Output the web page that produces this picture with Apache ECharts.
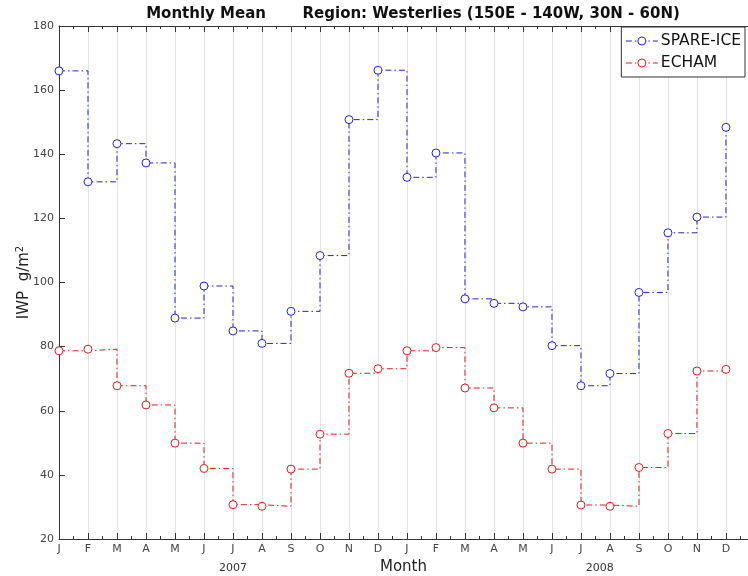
<!DOCTYPE html>
<html>
<head>
<meta charset="utf-8">
<script src="https://cdn.jsdelivr.net/npm/echarts@6/dist/echarts.min.js"></script>
<style>
  html, body { margin: 0; padding: 0; background: #fff; }
  #chart { width: 748px; height: 576px; }
</style>
</head>
<body>
<div id="chart"></div>
<script>
// month index 0 = Jan 2007 ... 23 = Dec 2008
var monthLetters = ['J','F','M','A','M','J','J','A','S','O','N','D',
                    'J','F','M','A','M','J','J','A','S','O','N','D'];
var spareIce = [166, 131.4, 143.3, 137.3, 88.9, 98.9, 84.9, 81, 91, 108.4, 150.8, 166.2,
                132.8, 140.4, 94.9, 93.5, 92.4, 80.3, 67.8, 71.6, 96.9, 115.5, 120.4, 148.4];
var echam = [78.7, 79.2, 67.8, 61.8, 49.9, 42, 30.7, 30.2, 41.8, 52.7, 71.7, 73.1,
             78.7, 79.7, 67.1, 60.9, 49.9, 41.8, 30.6, 30.2, 42.3, 52.9, 72.4, 72.9];
var yearLabels = ['2007', '2008'];
var yearPos = [6, 18.65];

var font = 'DejaVu Sans';
var chart = echarts.init(document.getElementById('chart'));

function pairs(vals) {
  return vals.map(function (v, i) { return [i, v]; });
}

var option = {
  animation: false,
  backgroundColor: '#fff',
  textStyle: { fontFamily: font },
  title: {
    text: 'Monthly Mean       Region: Westerlies (150E - 140W, 30N - 60N)',
    left: 408,
    textAlign: 'center',
    top: 2,
    textStyle: { fontFamily: font, fontSize: 15, fontWeight: 'bold', color: '#111' }
  },
  legend: {
    right: 3,
    top: 27,
    orient: 'vertical',
    backgroundColor: '#fff',
    borderColor: '#333',
    borderWidth: 1,
    borderRadius: 0,
    padding: [6, 4, 6, 4],
    itemGap: 6,
    itemWidth: 32,
    itemHeight: 10,
    itemStyle: { borderWidth: 1 },
    lineStyle: { width: 1 },
    textStyle: { fontFamily: font, fontSize: 15.5, color: '#111', padding: [0, 0, 0, -2] },
    data: ['SPARE-ICE', 'ECHAM']
  },
  grid: { left: 59, right: 0, top: 26, bottom: 37, containLabel: false, outerBoundsMode: 'none' },
  xAxis: [{
    type: 'value',
    min: 0,
    max: 23.76,
    interval: 1,
    name: 'Month',
    nameLocation: 'middle',
    nameGap: 18,
    nameTextStyle: { fontFamily: font, fontSize: 15, color: '#222' },
    axisLine: { lineStyle: { color: '#333', width: 1 } },
    axisTick: { inside: true, length: 6, lineStyle: { color: '#333' } },
    minorTick: { show: true, splitNumber: 2, length: 3, lineStyle: { color: '#333' } },
    splitLine: { show: true, lineStyle: { color: '#e4e4e4', width: 1 } },
    axisLabel: {
      showMaxLabel: false,
      fontFamily: font, fontSize: 11, color: '#444', margin: 5,
      formatter: function (v) { return monthLetters[Math.round(v)] || ''; }
    }
  }, {
    type: 'value',
    position: 'top',
    min: 0,
    max: 23.76,
    interval: 1,
    axisLine: { show: true, lineStyle: { color: '#333', width: 1 } },
    axisTick: { inside: true, length: 6, lineStyle: { color: '#333' } },
    minorTick: { show: true, splitNumber: 2, length: 3, lineStyle: { color: '#333' } },
    splitLine: { show: false },
    axisLabel: { show: false }
  }],
  yAxis: {
    type: 'value',
    min: 20,
    max: 180,
    interval: 20,
    name: '{a|IWP  g/m}{s|2}',
    nameLocation: 'middle',
    nameMoveOverlap: false,
    nameGap: 26,
    nameTextStyle: {
      rich: {
        a: { fontFamily: font, fontSize: 15, color: '#222' },
        s: { fontFamily: font, fontSize: 10, color: '#222', verticalAlign: 'top', padding: [0, 0, 8, 0] }
      }
    },
    axisLine: { show: true, lineStyle: { color: '#333', width: 1 } },
    axisTick: { inside: true, length: 6, lineStyle: { color: '#333' } },
    splitLine: { show: false },
    axisLabel: { fontFamily: font, fontSize: 11, color: '#444', margin: 5 }
  },
  graphic: yearLabels.map(function (t, i) {
    return {
      type: 'text',
      x: 59 + yearPos[i] * 29,
      y: 563,
      style: { text: t, font: '11px "DejaVu Sans"', fill: '#333', textAlign: 'center' }
    };
  }),
  series: [{
    name: 'SPARE-ICE',
    type: 'line',
    step: 'end',
    data: pairs(spareIce),
    color: '#2424c8',
    symbol: 'circle',
    symbolSize: 8,
    showAllSymbol: true,
    itemStyle: { color: '#fff', borderColor: '#2424c8', borderWidth: 1 },
    lineStyle: { color: '#2424c8', width: 1, type: [6, 3, 1.5, 3] }
  }, {
    name: 'ECHAM',
    type: 'line',
    step: 'end',
    data: pairs(echam),
    color: '#d42020',
    symbol: 'circle',
    symbolSize: 8,
    showAllSymbol: true,
    itemStyle: { color: '#fff', borderColor: '#d42020', borderWidth: 1 },
    lineStyle: { color: '#d42020', width: 1, type: [6, 3, 1.5, 3] }
  }]
};

chart.setOption(option);
</script>
</body>
</html>
